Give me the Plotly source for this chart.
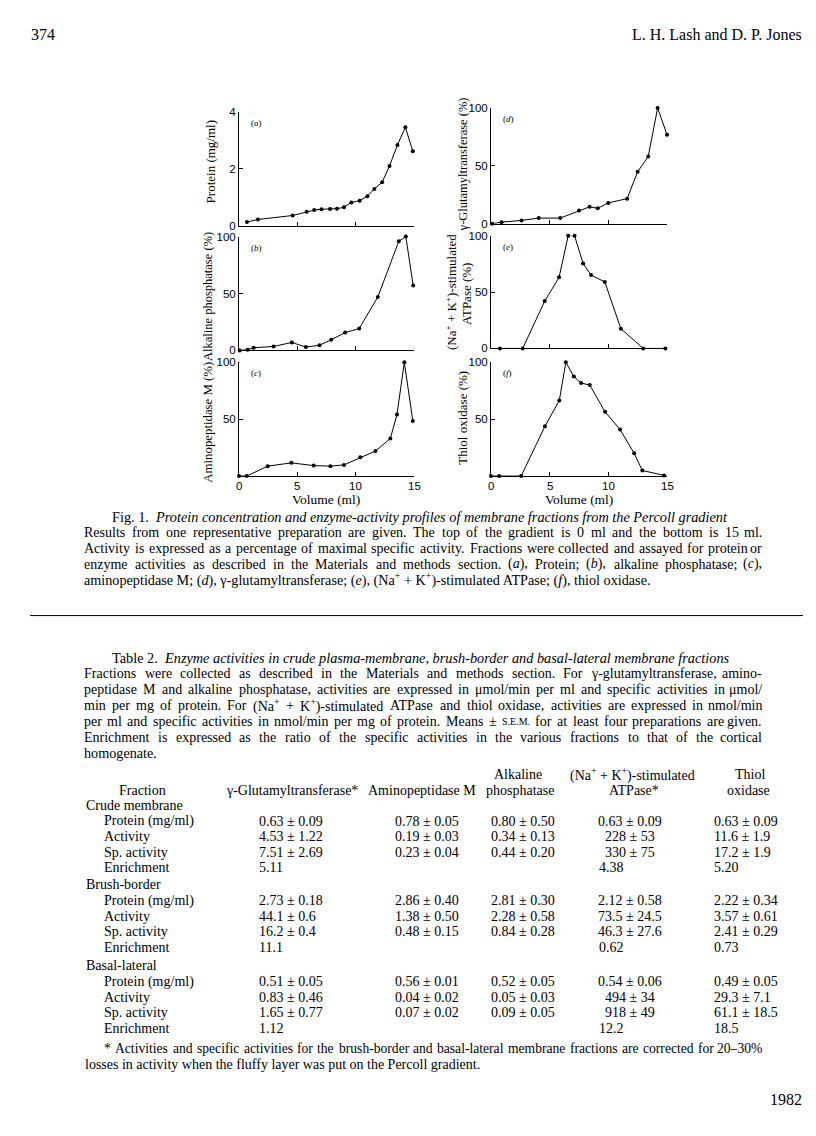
import re
import plotly.graph_objects as go

W, H = 816, 1136
SERIF = "Liberation Serif"
SANS = "Liberation Sans"

# ---------------- Figure 1 data ----------------
vol_a = [0.68, 1.62, 4.6, 5.8, 6.45, 7.07, 7.8, 8.4, 9.0, 9.63, 10.34, 11.0, 11.6, 12.27, 12.9, 13.58, 14.26, 14.9]
protein = [0.13, 0.22, 0.36, 0.49, 0.55, 0.58, 0.59, 0.60, 0.65, 0.82, 0.88, 1.04, 1.29, 1.53, 2.10, 2.84, 3.46, 2.62]

vol_b = [0.06, 0.74, 1.25, 2.96, 4.53, 5.73, 6.9, 7.9, 9.1, 10.3, 11.9, 13.7, 14.3, 14.93]
alk_phos = [0, 0.6, 2.3, 3.5, 7, 2.9, 4.6, 9.3, 15.7, 19.2, 47, 96, 100, 57]

vol_c = [0, 0.66, 2.46, 4.49, 6.4, 7.83, 9.0, 10.4, 11.7, 12.97, 13.54, 14.17, 14.9]
aminopep = [0, 0, 8.7, 11.6, 9.2, 8.7, 9.8, 16.5, 22, 33, 54, 100, 48.5]

vol_d = [0.1, 0.9, 2.6, 4.07, 5.9, 7.5, 8.4, 9.1, 10.0, 11.6, 12.5, 13.4, 14.2, 15.0]
ggt = [0, 1.4, 2.9, 4.9, 4.9, 11.4, 14.6, 13.4, 18, 21.7, 45, 58, 100, 77]

vol_e = [0.76, 2.7, 4.58, 5.8, 6.58, 7.12, 7.85, 8.53, 9.7, 11.07, 12.97, 14.86]
atpase = [0, 0, 42, 63, 100, 100, 75.4, 65, 59, 17.5, 0, 0]

vol_f = [0.0, 0.7, 2.57, 4.6, 5.82, 6.38, 7.06, 7.68, 8.42, 9.72, 11.0, 12.2, 12.9, 14.75]
thiol = [0, 0, 0, 43.8, 66.4, 100, 87.5, 81.7, 80, 56.5, 40.9, 20, 4.9, 0.6]

x_ticks = [0, 5, 10, 15]
pct_ticks = [0, 50, 100]
prot_ticks = [0, 2, 4]

# ---------------- Table 2 data ----------------
fractions = ["Crude membrane", "Brush-border", "Basal-lateral"]
row_labels = ["Protein (mg/ml)", "Activity", "Sp. activity", "Enrichment"]
tab_ggt = [["0.63 ± 0.09", "4.53 ± 1.22", "7.51 ± 2.69", "5.11"],
           ["2.73 ± 0.18", "44.1 ± 0.6", "16.2 ± 0.4", "11.1"],
           ["0.51 ± 0.05", "0.83 ± 0.46", "1.65 ± 0.77", "1.12"]]
tab_amino = [["0.78 ± 0.05", "0.19 ± 0.03", "0.23 ± 0.04", ""],
             ["2.86 ± 0.40", "1.38 ± 0.50", "0.48 ± 0.15", ""],
             ["0.56 ± 0.01", "0.04 ± 0.02", "0.07 ± 0.02", ""]]
tab_alk = [["0.80 ± 0.50", "0.34 ± 0.13", "0.44 ± 0.20", ""],
           ["2.81 ± 0.30", "2.28 ± 0.58", "0.84 ± 0.28", ""],
           ["0.52 ± 0.05", "0.05 ± 0.03", "0.09 ± 0.05", ""]]
tab_atp = [["0.63 ± 0.09", "228 ± 53", "330 ± 75", "4.38"],
           ["2.12 ± 0.58", "73.5 ± 24.5", "46.3 ± 27.6", "0.62"],
           ["0.54 ± 0.06", "494 ± 34", "918 ± 49", "12.2"]]
tab_thiol = [["0.63 ± 0.09", "11.6 ± 1.9", "17.2 ± 1.9", "5.20"],
             ["2.22 ± 0.34", "3.57 ± 0.61", "2.41 ± 0.29", "0.73"],
             ["0.49 ± 0.05", "29.3 ± 7.1", "61.1 ± 18.5", "18.5"]]

caption_title = "Fig. 1.  <i>Protein concentration and enzyme-activity profiles of membrane fractions from the Percoll gradient</i>"
caption_lines = [
    "Results from one representative preparation are given. The top of the gradient is 0 ml and the bottom is 15 ml.",
    "Activity is expressed as a percentage of maximal specific activity. Fractions were collected and assayed for protein or",
    "enzyme activities as described in the Materials and methods section. (<i>a</i>), Protein; (<i>b</i>), alkaline phosphatase; (<i>c</i>),",
    "aminopeptidase M; (<i>d</i>), γ-glutamyltransferase; (<i>e</i>), (Na<sup>+</sup> + K<sup>+</sup>)-stimulated ATPase; (<i>f</i>), thiol oxidase.",
]
table_title = "Table 2.  <i>Enzyme activities in crude plasma-membrane, brush-border and basal-lateral membrane fractions</i>"
legend_lines = [
    "Fractions were collected as described in the Materials and methods section. For γ-glutamyltransferase, amino-",
    "peptidase M and alkaline phosphatase, activities are expressed in μmol/min per ml and specific activities in μmol/",
    "min per mg of protein. For (Na<sup>+</sup> + K<sup>+</sup>)-stimulated ATPase and thiol oxidase, activities are expressed in nmol/min",
    "per ml and specific activities in nmol/min per mg of protein. Means ± <span style='font-size:10px'>S.E.M.</span> for at least four preparations are given.",
    "Enrichment is expressed as the ratio of the specific activities in the various fractions to that of the cortical",
    "homogenate.",
]
footnote_lines = [
    "* Activities and specific activities for the brush-border and basal-lateral membrane fractions are corrected for 20–30%",
    "losses in activity when the fluffy layer was put on the Percoll gradient.",
]

# ---------------- helpers ----------------
def px(x):
    return x / W

def py(y):
    return 1 - y / H

annotations = []

def txt(x, y, s, size=14, anchor="left", family=SERIF, angle=0, yanchor="middle", xref="paper"):
    if not s:
        return
    annotations.append(dict(
        x=px(x) if xref == "paper" else x, y=py(y), xref=xref, yref="paper", text=s,
        showarrow=False, xanchor=anchor, yanchor=yanchor, textangle=angle, borderpad=0,
        font=dict(family=family, size=size, color="black")))

# Times / Liberation Serif advance widths (1/1000 em)
TW = {' ': 250, '%': 833, '(': 333, ')': 333, '*': 500, '+': 564, ',': 250, '-': 333, '.': 250,
      '/': 278, ':': 278, ';': 278, '±': 564, 'γ': 450, 'μ': 530, '–': 500,
      'A': 722, 'B': 667, 'C': 667, 'D': 722, 'E': 611, 'F': 556, 'G': 722, 'H': 722, 'I': 333,
      'J': 389, 'K': 722, 'L': 611, 'M': 889, 'N': 722, 'O': 722, 'P': 556, 'Q': 722, 'R': 667,
      'S': 556, 'T': 611, 'U': 722, 'V': 722, 'W': 944, 'X': 722, 'Y': 722, 'Z': 611,
      'a': 444, 'b': 500, 'c': 444, 'd': 500, 'e': 444, 'f': 333, 'g': 500, 'h': 500, 'i': 278,
      'j': 278, 'k': 500, 'l': 278, 'm': 778, 'n': 500, 'o': 500, 'p': 500, 'q': 500, 'r': 333,
      's': 389, 't': 278, 'u': 500, 'v': 500, 'w': 722, 'x': 500, 'y': 500, 'z': 444}

def text_width(s, size):
    total = 0.0
    scale = 1.0
    for part in re.split(r'(<[^>]*>)', s):
        if part.startswith('<'):
            tag = part.lower()
            if tag.startswith('<sup'):
                scale = 0.7
            elif tag.startswith('</sup'):
                scale = 1.0
            elif tag.startswith('<span'):
                m = re.search(r'font-size:([\d.]+)px', tag)
                if m:
                    scale = float(m.group(1)) / size
            elif tag.startswith('</span'):
                scale = 1.0
            continue
        for ch in part:
            total += TW.get(ch, 500) * scale
    return total * size / 1000.0

def justify(line, y, x0, x1, size=14):
    words = re.findall(r'(?:<[^>]*>|[^\s<])+', line)
    widths = [text_width(w, size) for w in words]
    gap = (x1 - x0 - sum(widths)) / max(len(words) - 1, 1)
    x = x0
    for i, w in enumerate(words):
        if i == len(words) - 1:
            txt(x1, y, w, size=size, anchor="right")
        else:
            txt(x, y, w, size=size)
            x += widths[i] + gap

fig = go.Figure()
layout = dict(width=W, height=H, margin=dict(l=0, r=0, t=0, b=0),
              paper_bgcolor="white", plot_bgcolor="white", showlegend=False)

LEFT = (231, 406)
RIGHT = (483, 659)
panels = [
    (vol_a, protein, [0, 4], prot_ticks, LEFT, (214, 99), "(<i>a</i>)", False),
    (vol_b, alk_phos, [0, 100], pct_ticks, LEFT, (340, 225), "(<i>b</i>)", False),
    (vol_c, aminopep, [0, 100], [50, 100], LEFT, (467, 352), "(<i>c</i>)", True),
    (vol_d, ggt, [0, 100], pct_ticks, RIGHT, (212, 95), "(<i>d</i>)", False),
    (vol_e, atpase, [0, 100], pct_ticks, RIGHT, (338, 224), "(<i>e</i>)", False),
    (vol_f, thiol, [0, 100], [50, 100], RIGHT, (467, 352), "(<i>f</i>)", True),
]

TICKF = 11.5
for i, (xs, ys, yr, yt, xd, yd, lab, bottom) in enumerate(panels, start=1):
    sfx = "" if i == 1 else str(i)
    fig.add_trace(go.Scatter(x=xs, y=ys, mode="lines+markers", cliponaxis=False,
                             line=dict(color="black", width=1),
                             marker=dict(color="black", size=4),
                             xaxis="x" + sfx, yaxis="y" + sfx, hoverinfo="skip"))
    layout["xaxis" + sfx] = dict(
        domain=[px(xd[0]), px(xd[1])], range=[0, 15], anchor="y" + sfx,
        showline=True, linecolor="black", linewidth=1, showgrid=False, zeroline=False,
        ticks="inside", ticklen=4, tickcolor="black",
        tickvals=[5, 10, 15], showticklabels=False)
    layout["yaxis" + sfx] = dict(
        domain=[py(yd[0]), py(yd[1])], range=yr, anchor="x" + sfx,
        showline=True, linecolor="black", linewidth=1, showgrid=False, zeroline=False,
        ticks="inside", ticklen=4, tickcolor="black", tickvals=yt,
        tickfont=dict(family=SANS, size=TICKF, color="black"))
    txt(xd[0] + 11, yd[1] + 11, lab, size=9)
    if bottom:
        # x tick labels placed through the panel's own x axis
        for t in x_ticks:
            txt(t, yd[0] + 10, str(t), size=TICKF, anchor="center", family=SANS, xref="x" + sfx)

# y-axis titles (rotated, centred)
AT = 13
txt(202, 150, "Protein (mg/ml)", size=AT, anchor="center", angle=-90)
txt(200, 286, "Alkaline phosphatase (%)", size=12.5, anchor="center", angle=-90)
txt(200, 413, "Aminopeptidase M (%)", size=12.8, anchor="center", angle=-90)
txt(455, 152, "γ-Glutamyltransferase (%)", size=12.5, anchor="center", angle=-90)
txt(443, 281, "(Na<sup>+</sup> + K<sup>+</sup>)-stimulated", size=AT, anchor="center", angle=-90)
txt(458, 283, "ATPase (%)", size=AT, anchor="center", angle=-90)
txt(455, 408, "Thiol oxidase (%)", size=AT, anchor="center", angle=-90)
txt(318, 491, "Volume (ml)", size=13.5, anchor="center")
txt(571, 491, "Volume (ml)", size=13.5, anchor="center")

# page header / footer
txt(22, 21, "374", size=16)
txt(795, 21, "L. H. Lash and D. P. Jones", size=16, anchor="right")
txt(795, 1097, "1982", size=16, anchor="right")

# figure caption
txt(103, 508, caption_title, size=14.3)
for k, line in enumerate(caption_lines):
    yy = 524 + 16 * k
    if k < len(caption_lines) - 1:
        justify(line, yy, 75, 755)
    else:
        txt(75, yy, line, size=14.2)

# rule
shapes = [dict(type="line", xref="paper", yref="paper", x0=px(22), x1=px(795),
               y0=py(608), y1=py(608), line=dict(color="black", width=1))]

# Table 2 title & legend
txt(103, 651, table_title, size=14.3)
for k, line in enumerate(legend_lines):
    yy = 667 + 16 * k
    if k < len(legend_lines) - 1:
        justify(line, yy, 75, 755)
    else:
        txt(75, yy, line, size=14.2)

TS = 14
# column headers
txt(510, 769, "Alkaline", size=TS, anchor="center")
txt(624, 769, "(Na<sup>+</sup> + K<sup>+</sup>)-stimulated", size=TS, anchor="center")
txt(742, 769, "Thiol", size=TS, anchor="center")
txt(134, 785, "Fraction", size=TS, anchor="center")
txt(284, 785, "γ-Glutamyltransferase*", size=TS, anchor="center")
txt(414, 785, "Aminopeptidase M", size=TS, anchor="center")
txt(512, 785, "phosphatase", size=TS, anchor="center")
txt(626, 785, "ATPase*", size=TS, anchor="center")
txt(740, 785, "oxidase", size=TS, anchor="center")

# table body
group_y = [800, 880, 962]
for g, name in enumerate(fractions):
    y0 = group_y[g]
    txt(77, y0, name, size=TS)
    for r, lab in enumerate(row_labels):
        yy = y0 + 16 + 15.7 * r
        txt(95, yy, lab, size=TS)
        txt(250, yy, tab_ggt[g][r], size=TS)
        txt(386, yy, tab_amino[g][r], size=TS)
        txt(482, yy, tab_alk[g][r], size=TS)
        if r == 3:
            txt(590, yy, tab_atp[g][r], size=TS)
        else:
            txt(622, yy, tab_atp[g][r], size=TS, anchor="center")
        txt(705, yy, tab_thiol[g][r], size=TS)

# footnote
justify(footnote_lines[0], 1046, 95, 755, size=13.6)
txt(76, 1062, footnote_lines[1], size=TS)

layout["annotations"] = annotations
layout["shapes"] = shapes
fig.update_layout(**layout)
fig.write_html("out.html")
